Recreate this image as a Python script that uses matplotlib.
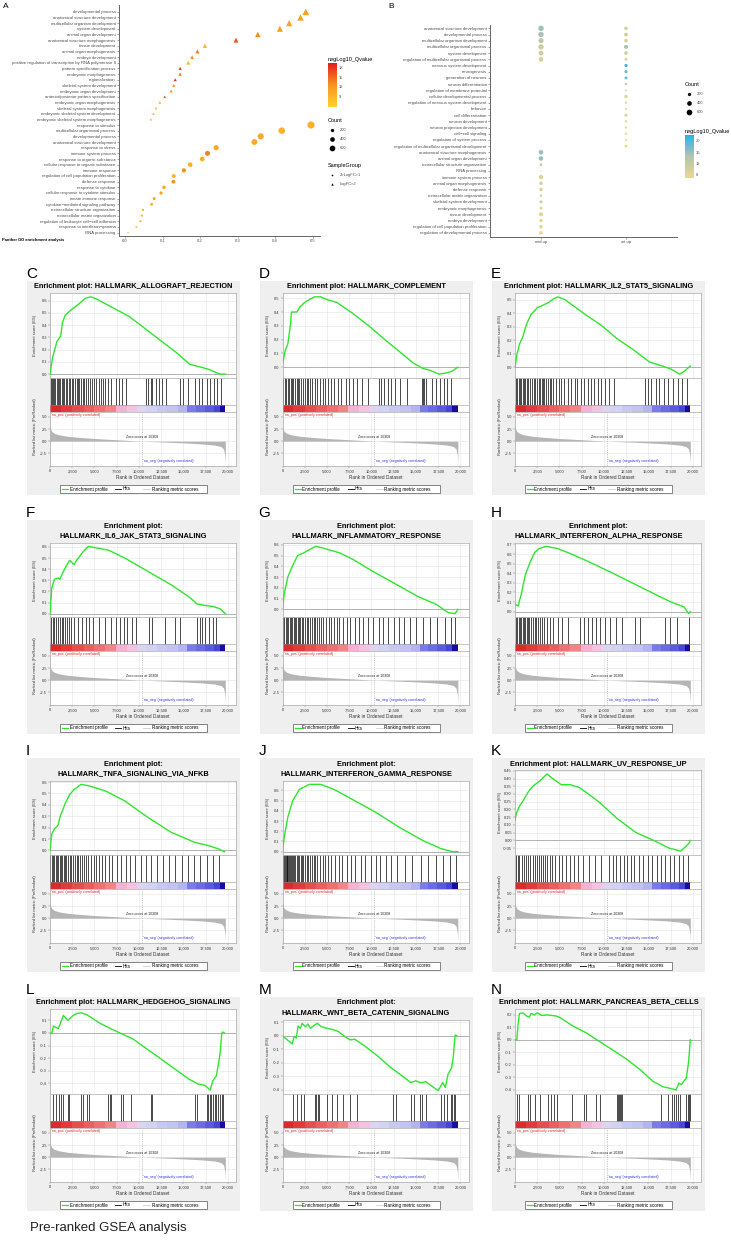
"""
plot.py

Rekonstruktion der Abbildung:
- A: Panther-GO-Anreicherung (Punktdiagramm nach LogFC-Gruppe)
- B: GO-Anreicherung mid up / wt up
- C-N: Pre-ranked GSEA Enrichment-Plots
"""

import numpy as np
import matplotlib
matplotlib.use("Agg")
import matplotlib.pyplot as plt
from matplotlib.cm import ScalarMappable
from matplotlib.colors import LinearSegmentedColormap, Normalize
from matplotlib.patches import Rectangle


FIG_W, FIG_H = 731, 1241
DPI = 100
OUTPUT = "out.png"

FONT = "Liberation Sans"
plt.rcParams["font.family"] = [FONT, "DejaVu Sans"]

SIZE_SCALE = 0.028
TRIANGLE_BOOST = 1.7
GO_LABEL_SIZE = 3.1
HIT_LW = 0.5

# ---------------------------------------------------------------- Panel A
A_TERMS = [
    "developmental process",
    "anatomical structure development",
    "multicellular organism development",
    "system development",
    "animal organ development",
    "anatomical structure morphogenesis",
    "tissue development",
    "animal organ morphogenesis",
    "embryo development",
    "positive regulation of transcription by RNA polymerase II",
    "pattern specification process",
    "embryonic morphogenesis",
    "regionalization",
    "skeletal system development",
    "embryonic organ development",
    "anterior/posterior pattern specification",
    "embryonic organ morphogenesis",
    "skeletal system morphogenesis",
    "embryonic skeletal system development",
    "embryonic skeletal system morphogenesis",
    "response to stimulus",
    "multicellular organismal process",
    "developmental process",
    "anatomical structure development",
    "response to stress",
    "immune system process",
    "response to organic substance",
    "cellular response to organic substance",
    "immune response",
    "regulation of cell population proliferation",
    "defense response",
    "response to cytokine",
    "cellular response to cytokine stimulus",
    "innate immune response",
    "cytokine\u2212mediated signaling pathway",
    "extracellular structure organization",
    "extracellular matrix organization",
    "regulation of leukocyte cell\u2212cell adhesion",
    "response to interferon\u2212gamma",
    "RNA processing",
]
A_RATIO = [0.482, 0.468, 0.438, 0.413, 0.354, 0.296, 0.213, 0.193, 0.179, 0.169,
           0.147, 0.147, 0.134, 0.130, 0.123, 0.106, 0.093, 0.083, 0.076, 0.069,
           0.496, 0.418, 0.362, 0.345, 0.243, 0.220, 0.206, 0.174, 0.157, 0.130,
           0.129, 0.104, 0.096, 0.078, 0.071, 0.048, 0.045, 0.041, 0.030, 0.008]
A_QVAL = [11, 11, 10.5, 11, 13, 16, 9, 14, 12, 8.5,
          17, 14, 18.5, 12, 12.5, 16, 11, 10, 11, 11,
          9, 9, 10, 10, 10, 13.5, 9.5, 9.5, 12.5, 9,
          12.5, 10, 10, 10.5, 9.5, 9, 9, 8.5, 8.5, 7.5]
A_COUNT = [480, 450, 420, 400, 330, 270, 200, 180, 170, 160,
           120, 120, 100, 100, 95, 80, 70, 60, 55, 50,
           950, 820, 700, 650, 500, 450, 420, 380, 330, 280,
           280, 230, 200, 170, 160, 90, 85, 80, 60, 40]
A_GROUP = ["LogFC>2"] * 20 + ["2>LogFC>1"] * 20
A_XTICKS = [0.0, 0.1, 0.2, 0.3, 0.4, 0.5]
A_CBAR_TICKS = [9, 12, 15, 18]

# ---------------------------------------------------------------- Panel B
B_TERMS = [
    "anatomical structure development",
    "developmental process",
    "multicellular organism development",
    "multicellular organismal process",
    "system development",
    "regulation of multicellular organismal process",
    "nervous system development",
    "neurogenesis",
    "generation of neurons",
    "neuron differentiation",
    "regulation of membrane potential",
    "cellular developmental process",
    "regulation of nervous system development",
    "behavior",
    "cell differentiation",
    "neuron development",
    "neuron projection development",
    "cell\u2212cell signaling",
    "regulation of system process",
    "regulation of multicellular organismal development",
    "anatomical structure morphogenesis",
    "animal organ development",
    "extracellular structure organization",
    "RNA processing",
    "immune system process",
    "animal organ morphogenesis",
    "defense response",
    "extracellular matrix organization",
    "skeletal system development",
    "embryonic morphogenesis",
    "tissue development",
    "embryo development",
    "regulation of cell population proliferation",
    "regulation of developmental process",
]
B_GROUPS = ["mid up", "wt up"]
B_MID_QVAL = [15.5, 15, 13, 11, 11, 10, None, None, None, None,
              None, None, None, None, None, None, None, None, None, None,
              16, 16, 12, 11, 9, 10, 9, 10, 10, 9,
              8, 8, 8, 7]
B_MID_COUNT = [560, 540, 480, 520, 420, 380, None, None, None, None,
               None, None, None, None, None, None, None, None, None, None,
               380, 380, 150, 20, 350, 220, 230, 120, 170, 170,
               300, 210, 230, 250]
B_WT_QVAL = [10, 11, 9, 15, 11, 9, 21, 19, 19, 12,
             10, 9, 8, 8, 9, 8, 8, 7, 7, 6.5,
             None, None, None, None, None, None, None, None, None, None,
             None, None, None, None]
B_WT_COUNT = [230, 260, 250, 300, 240, 170, 190, 170, 160, 120,
              60, 200, 90, 80, 180, 100, 90, 110, 80, 150,
              None, None, None, None, None, None, None, None, None, None,
              None, None, None, None]
B_CBAR_TICKS = [8, 12, 16, 20]
LEGEND_COUNTS = [200, 400, 600]

# ---------------------------------------------------------------- GSEA
RANK_TICKS = [0, 2500, 5000, 7500, 10000, 12500, 15000, 17500, 20000]
ZERO_CROSS = 10308

METRIC_RANK = [0, 50, 200, 500, 1000, 2000, 3500, 5000, 7500, 10308,
               12500, 15000, 17000, 18500, 19200, 19500, 19650, 19700]
METRIC_VALUE = [3.4, 2.6, 2.0, 1.6, 1.3, 1.0, 0.75, 0.55, 0.3, 0.0,
                -0.15, -0.35, -0.55, -0.8, -1.1, -1.6, -3.0, -4.8]

C_ES_RANK = [0, 300, 800, 1200, 1400, 1700, 2300, 3200, 4000, 4600, 5300,
             7100, 8900, 10700, 12500, 14300, 15700, 16800, 17800, 19100, 19700]
C_ES_SCORE = [0.0, 0.14, 0.27, 0.31, 0.42, 0.48, 0.52, 0.57, 0.62, 0.63, 0.61,
              0.54, 0.47, 0.37, 0.27, 0.17, 0.08, 0.06, 0.04, 0.0, 0.0]
C_HITS = [100, 200, 350, 500, 600, 750, 900, 1000, 1100, 1300, 1450, 1600, 1800,
          1950, 2100, 2300, 2500, 2600, 2800, 3000, 3100, 3300, 3500, 3700, 3800,
          4000, 4300, 4500, 4700, 5000, 5200, 5500, 5700, 5900, 6200, 6500, 6900,
          7400, 7800, 8100, 8500, 10800, 11000, 11300, 11500, 11900, 12200, 12600,
          13000, 14600, 15000, 15500, 16300, 16700, 17100, 17600, 18000, 18400,
          18800, 19200]

D_ES_RANK = [0, 300, 600, 900, 1000, 1600, 2000, 2500, 3000, 3600, 4300, 5000,
             6100, 7900, 9700, 11500, 13300, 14700, 15800, 16500, 17600, 18500,
             19000, 19700]
D_ES_SCORE = [0.02, 0.12, 0.17, 0.31, 0.40, 0.40, 0.44, 0.47, 0.49, 0.51, 0.51,
              0.49, 0.47, 0.39, 0.30, 0.20, 0.105, 0.03, -0.01, -0.02, -0.05,
              -0.04, -0.03, 0.0]
D_HITS = [100, 250, 400, 600, 750, 900, 1050, 1200, 1400, 1600, 1700, 1900, 2100,
          2300, 2500, 2700, 2900, 3100, 3300, 3600, 3900, 4200, 4500, 4800, 5100,
          5400, 5800, 6200, 6600, 7100, 7500, 7900, 8400, 8900, 9600, 10800,
          11100, 11400, 11800, 12200, 12600, 13200, 14000, 15700, 15800, 15900,
          16100, 16800, 17200, 17700, 18100, 18500, 18900]

E_ES_RANK = [0, 200, 500, 900, 1300, 1800, 2500, 3200, 3800, 4300, 4800, 5600,
             7900, 9700, 11500, 13300, 15100, 16800, 17600, 18500, 19000, 19700]
E_ES_SCORE = [0.0, 0.09, 0.17, 0.23, 0.32, 0.39, 0.44, 0.46, 0.48, 0.505, 0.52,
              0.50, 0.39, 0.31, 0.21, 0.13, 0.04, 0.005, -0.015, -0.05, -0.03,
              0.01]
E_HITS = [100, 250, 400, 550, 700, 850, 1000, 1150, 1300, 1500, 1700, 1900, 2100,
          2300, 2500, 2650, 2800, 3000, 3150, 3300, 3500, 3700, 3900, 4100, 4300,
          4600, 4900, 5200, 5500, 5900, 6300, 6700, 7000, 7400, 7800, 8200, 8500,
          8900, 9300, 9700, 10100, 10600, 11100, 14600, 14900, 15300, 15800,
          16200, 16700, 17200, 17800, 18300, 18800, 19300]

F_ES_RANK = [0, 200, 500, 900, 1100, 1700, 2200, 2700, 3000, 3750, 4300, 5300,
             6600, 8400, 11000, 13600, 15700, 16500, 17500, 18300, 19100, 19700]
F_ES_SCORE = [0.0, 0.23, 0.31, 0.32, 0.31, 0.41, 0.48, 0.44, 0.48, 0.56, 0.605,
              0.59, 0.57, 0.50, 0.38, 0.26, 0.146, 0.088, 0.073, 0.064, 0.044,
              0.0]
F_HITS = [100, 300, 500, 700, 900, 1100, 1300, 1500, 1700, 1900, 2100, 2400,
          2700, 3200, 3600, 4000, 4400, 4800, 5500, 6200, 6800, 7400, 7900, 8300,
          8600, 9200, 9700, 11100, 11500, 12900, 14000, 14600, 16500, 16800,
          17100, 17400, 17900, 18300, 18700]

G_ES_RANK = [0, 200, 600, 1100, 1700, 2400, 3000, 3750, 4500, 6400, 7900, 10000,
             12600, 15200, 17300, 18600, 19400, 19700]
G_ES_SCORE = [0.0, 0.15, 0.30, 0.40, 0.50, 0.525, 0.555, 0.585, 0.57, 0.525,
              0.465, 0.36, 0.24, 0.12, 0.045, -0.03, -0.04, 0.0]
G_HITS = [50, 200, 350, 500, 650, 800, 950, 1100, 1250, 1400, 1550, 1700, 1850,
          2000, 2150, 2300, 2500, 2700, 2900, 3100, 3300, 3500, 3700, 3900, 4100,
          4300, 4600, 4900, 5200, 5500, 5800, 6100, 6400, 6800, 7200, 7600, 8100,
          8600, 9100, 9600, 10200, 10800, 11300, 11900, 12500, 13100, 13700,
          14300, 15000, 15800, 16600, 17400, 18300, 18900, 19400]

H_ES_RANK = [0, 350, 700, 1150, 1700, 2200, 2700, 3500, 4800, 6350, 8400, 11000,
             13600, 16200, 17700, 19000, 19500, 19700]
H_ES_SCORE = [0.08, 0.06, 0.18, 0.38, 0.515, 0.616, 0.657, 0.68, 0.657, 0.60,
              0.515, 0.40, 0.28, 0.16, 0.094, 0.05, -0.02, 0.0]
H_HITS = [100, 250, 400, 550, 700, 850, 1000, 1150, 1300, 1450, 1600, 1800, 2000,
          2200, 2400, 2600, 2800, 3000, 3300, 3600, 3900, 4300, 4800, 5300, 5900,
          7300, 7700, 8200, 8600, 9100, 9600, 10100, 10700, 11300, 12000, 13500,
          14100, 16900, 17400, 18200, 19600]

I_ES_RANK = [0, 200, 500, 900, 1150, 1700, 2200, 2700, 3500, 4500, 6300, 8400,
             11000, 13600, 16250, 17800, 18900, 19600]
I_ES_SCORE = [0.0, 0.145, 0.19, 0.22, 0.30, 0.41, 0.49, 0.535, 0.58, 0.565, 0.52,
              0.435, 0.29, 0.16, 0.072, 0.043, 0.015, -0.01]
I_HITS = [50, 200, 350, 500, 650, 800, 950, 1100, 1250, 1400, 1550, 1700, 1850,
          2000, 2200, 2400, 2600, 2800, 3000, 3200, 3400, 3600, 3800, 4000, 4300,
          4600, 4900, 5200, 5500, 5800, 6200, 6600, 7000, 7500, 8000, 8500, 9000,
          9600, 10200, 10800, 11400, 12000, 12700, 13400, 14100, 14800, 15500,
          16200, 16900, 17600, 18300, 19000]

J_ES_RANK = [0, 200, 600, 1150, 1900, 3000, 4300, 5800, 7900, 10500, 13100,
             15750, 17800, 19100, 19700]
J_ES_SCORE = [0.0, 0.145, 0.34, 0.50, 0.61, 0.66, 0.66, 0.61, 0.51, 0.385, 0.24,
              0.11, 0.03, 0.0, 0.0]
J_HITS = [50, 150, 250, 350, 450, 550, 650, 750, 850, 950, 1050, 1150, 1300,
          1450, 1600, 1750, 1900, 2050, 2200, 2350, 2500, 2700, 2900, 3100, 3300,
          3500, 3700, 3900, 4200, 4500, 4800, 5100, 5500, 5900, 6300, 6700, 7200,
          7700, 8200, 8800, 9300, 9900, 10500, 11000, 11600, 12200, 12900, 13800,
          14600, 15600, 16400, 17300, 18000, 18800, 19500]

K_ES_RANK = [0, 150, 500, 950, 1500, 2000, 2800, 3600, 4100, 5200, 6200, 7300,
             9400, 11500, 13600, 15750, 17300, 18600, 19200, 19600, 19700]
K_ES_SCORE = [0.13, 0.175, 0.22, 0.26, 0.315, 0.35, 0.385, 0.43, 0.405, 0.36,
              0.36, 0.34, 0.25, 0.14, 0.05, -0.005, -0.05, -0.07, -0.04, -0.015,
              0.0]
K_HITS = [100, 300, 500, 800, 1000, 1200, 1500, 1700, 2000, 2200, 2500, 2700,
          2900, 3200, 3400, 3600, 3900, 4200, 4500, 4900, 5300, 5700, 6200, 6600,
          7100, 7600, 8300, 9000, 9700, 10600, 11000, 11400, 11800, 12200, 12600,
          13000, 13400, 13900, 14400, 14900, 15400, 15900, 16400, 16900, 17400,
          17900, 18400, 18900, 19400]

L_ES_RANK = [0, 200, 370, 930, 1100, 1500, 2000, 2600, 3000, 3500, 4100, 5600,
             7000, 9300, 11500, 13700, 15600, 16700, 17400, 18000, 18300, 18700,
             19100, 19300, 19400, 19600]
L_ES_SCORE = [0.0, -0.005, 0.055, 0.035, 0.064, 0.14, 0.10, 0.14, 0.155, 0.16,
              0.147, 0.078, 0.028, -0.047, -0.158, -0.27, -0.367, -0.408, -0.416,
              -0.455, -0.38, -0.34, -0.17, -0.005, 0.008, 0.0]
L_HITS = [370, 670, 1040, 1220, 1410, 2040, 2150, 3520, 3700, 4150, 4370, 6500,
          6700, 6850, 7960, 8150, 9070, 11300, 11500, 16300, 16500, 17600, 17800,
          18000, 18100, 18300, 18500, 18700, 18900, 19100, 19300, 19400]

M_ES_RANK = [0, 550, 1100, 1300, 1550, 1750, 2000, 2200, 2600, 2850, 3150, 3500,
             3900, 4400, 5000, 5550, 6300, 7000, 7600, 8100, 9300, 10700, 12200,
             13700, 14400, 15000, 15550, 16100, 16700, 17500, 18000, 18300, 18600,
             19000, 19200, 19300, 19400, 19600]
M_ES_SCORE = [0.0, -0.03, -0.06, -0.005, -0.017, 0.073, 0.056, 0.093, 0.068,
              0.088, 0.056, 0.075, 0.093, 0.068, 0.056, 0.049, 0.032, -0.005,
              -0.03, -0.024, -0.078, -0.15, -0.237, -0.31, -0.346, -0.334, -0.35,
              -0.34, -0.37, -0.407, -0.346, -0.383, -0.285, -0.237, -0.15,
              -0.066, 0.007, 0.0]
M_HITS = [1220, 1590, 2040, 2410, 3630, 3780, 4000, 4150, 5000, 5550, 6100, 6850,
          7600, 8330, 12400, 12800, 14400, 14800, 15400, 15700, 16100, 17800,
          18100, 18500, 18900, 19100, 19300, 19400]

N_ES_RANK = [0, 200, 350, 500, 900, 1300, 1600, 1800, 2200, 2500, 3000, 3300,
             3500, 4600, 5000, 6500, 8000, 9500, 11000, 12500, 14000, 15500,
             16600, 17800, 18100, 18400, 18700, 18950, 19250, 19500, 19700]
N_ES_SCORE = [0.0, 0.0, 0.125, 0.21, 0.215, 0.19, 0.18, 0.21, 0.20, 0.215, 0.195,
              0.195, 0.20, 0.19, 0.18, 0.11, 0.055, -0.014, -0.083, -0.153,
              -0.236, -0.333, -0.375, -0.395, -0.403, -0.347, -0.36, -0.333,
              -0.306, -0.18, 0.0]
N_HITS = [220, 450, 1460, 1650, 2200, 2770, 3700, 4100, 4340, 4720, 6440, 7700,
          8000, 9140, 9500, 11460, 11570, 11690, 11840, 11950, 12060, 16400,
          17200, 17600, 17900, 18100, 18300, 18500, 19250, 19400, 19550, 19700]

GSEA_PANELS = [
    ("C", "Enrichment plot: HALLMARK_ALLOGRAFT_REJECTION", C_ES_RANK, C_ES_SCORE, C_HITS, 0.1),
    ("D", "Enrichment plot: HALLMARK_COMPLEMENT", D_ES_RANK, D_ES_SCORE, D_HITS, 0.1),
    ("E", "Enrichment plot: HALLMARK_IL2_STAT5_SIGNALING", E_ES_RANK, E_ES_SCORE, E_HITS, 0.1),
    ("F", "Enrichment plot:\nHALLMARK_IL6_JAK_STAT3_SIGNALING", F_ES_RANK, F_ES_SCORE, F_HITS, 0.1),
    ("G", "Enrichment plot:\nHALLMARK_INFLAMMATORY_RESPONSE", G_ES_RANK, G_ES_SCORE, G_HITS, 0.1),
    ("H", "Enrichment plot:\nHALLMARK_INTERFERON_ALPHA_RESPONSE", H_ES_RANK, H_ES_SCORE, H_HITS, 0.1),
    ("I", "Enrichment plot:\nHALLMARK_TNFA_SIGNALING_VIA_NFKB", I_ES_RANK, I_ES_SCORE, I_HITS, 0.1),
    ("J", "Enrichment plot:\nHALLMARK_INTERFERON_GAMMA_RESPONSE", J_ES_RANK, J_ES_SCORE, J_HITS, 0.1),
    ("K", "Enrichment plot: HALLMARK_UV_RESPONSE_UP", K_ES_RANK, K_ES_SCORE, K_HITS, 0.05),
    ("L", "Enrichment plot: HALLMARK_HEDGEHOG_SIGNALING", L_ES_RANK, L_ES_SCORE, L_HITS, 0.1),
    ("M", "Enrichment plot:\nHALLMARK_WNT_BETA_CATENIN_SIGNALING", M_ES_RANK, M_ES_SCORE, M_HITS, 0.1),
    ("N", "Enrichment plot: HALLMARK_PANCREAS_BETA_CELLS", N_ES_RANK, N_ES_SCORE, N_HITS, 0.1),
]

# Farbstreifen unter den Hits (Rangbereiche und Farben)
STRIP_EDGES = [0, 1200, 2500, 3800, 5000, 6200, 7400, 8600, 9800, 10800, 12000,
               13200, 14400, 15400, 16400, 17400, 18400, 19100, 19700]
STRIP_COLORS = ["#d92b2b", "#e03a3a", "#e64d4d", "#ea5e5e", "#ee7070", "#f18484",
                "#f5b3d3", "#f5c3df", "#dcd4f0", "#d2d2f5", "#c8c8f5", "#c2c2f3",
                "#b4b4f0", "#7a7ae8", "#6a6ae4", "#5a5adf", "#4545d8", "#1a0aa0"]

# Layout in Pixeln
COL_X = [27, 259.5, 492]
ROW_TITLE_Y = [287, 526, 764, 1003]
PANEL_W = 213
RANK_MAX = 20900

GREEN = "#2de62d"
TEXT_GRAY = "#4d4d4d"

CMAP_A = LinearSegmentedColormap.from_list("qa", ["#ffd22e", "#f7931e", "#e41a1c"])
CMAP_B = LinearSegmentedColormap.from_list("qb", ["#ebd98b", "#b3c4b0", "#27b3f3"])
NORM_A = Normalize(5.5, 19.5)
NORM_B = Normalize(6.9, 22.1)


def px_rect(x, y, w, h):
    """Pixelbox (oben links) in Figurenkoordinaten umrechnen."""
    return [x / FIG_W, 1 - (y + h) / FIG_H, w / FIG_W, h / FIG_H]


def style_go_axes(ax):
    for side in ("top", "right"):
        ax.spines[side].set_visible(False)
    for side in ("left", "bottom"):
        ax.spines[side].set_color("#666666")
        ax.spines[side].set_linewidth(0.7)
    ax.tick_params(length=1.5, width=0.4, color="#666666", pad=1,
                   labelsize=GO_LABEL_SIZE, labelcolor=TEXT_GRAY)


def draw_count_legend(ov, x, y_title, y_dots):
    ov.text(x, y_title, "Count", fontsize=4, va="center")
    for yy, cnt in zip(y_dots, LEGEND_COUNTS):
        ov.scatter(x + 4, yy, s=cnt * SIZE_SCALE, color="black", linewidths=0)
        ov.text(x + 12, yy, str(cnt), fontsize=2.9, va="center", color=TEXT_GRAY)


def draw_colorbar(fig, ov, x, y_title, rect, norm, cmap, ticks):
    ov.text(x, y_title, "negLog10_Qvalue", fontsize=4, va="center")
    cax = fig.add_axes(px_rect(*rect))
    cb = fig.colorbar(ScalarMappable(norm=norm, cmap=cmap), cax=cax, ticks=ticks)
    cb.outline.set_visible(False)
    cax.tick_params(labelsize=2.9, length=0, pad=1.5, labelcolor=TEXT_GRAY)


def draw_panel_a(fig, ov):
    n = len(A_TERMS)
    ypos = np.arange(n)[::-1]
    ax = fig.add_axes(px_rect(119, 5, 201, 231))
    ratio = np.array(A_RATIO)
    qval = np.array(A_QVAL)
    count = np.array(A_COUNT)
    group = np.array(A_GROUP)
    for grp, marker, boost in (("LogFC>2", "^", TRIANGLE_BOOST), ("2>LogFC>1", "o", 1.0)):
        m = group == grp
        ax.scatter(ratio[m], ypos[m], s=count[m] * SIZE_SCALE * boost, c=qval[m],
                   cmap=CMAP_A, norm=NORM_A, marker=marker, linewidths=0)
    ax.set_xlim(-0.016, 0.52)
    ax.set_ylim(-0.6, n - 1 + 1.2)
    ax.set_yticks(ypos)
    ax.set_yticklabels(A_TERMS)
    ax.set_xticks(A_XTICKS)
    ax.set_xticklabels([f"{v:.1f}" for v in A_XTICKS])
    style_go_axes(ax)

    ov.text(3, 6, "A", fontsize=6, va="center")
    ov.text(2, 240, "Panther GO enrichment analysis", fontsize=2.9,
            fontweight="bold", va="center")

    draw_colorbar(fig, ov, 328, 59, (328, 63, 9, 44), NORM_A, CMAP_A, A_CBAR_TICKS)
    draw_count_legend(ov, 328, 121, [130, 139, 148])
    ov.text(328, 166, "SampleGroup", fontsize=4, va="center")
    ov.scatter(332, 175, s=1.5, color="black", marker="o", linewidths=0)
    ov.text(340, 175, "2>LogFC>1", fontsize=2.9, va="center", color=TEXT_GRAY)
    ov.scatter(332, 184, s=3, color="black", marker="^", linewidths=0)
    ov.text(340, 184, "LogFC>2", fontsize=2.9, va="center", color=TEXT_GRAY)


def draw_panel_b(fig, ov):
    n = len(B_TERMS)
    ypos = np.arange(n)[::-1]
    ax = fig.add_axes(px_rect(490, 24.6, 187, 212))
    for xi, (qlist, clist) in enumerate(((B_MID_QVAL, B_MID_COUNT),
                                         (B_WT_QVAL, B_WT_COUNT)), start=1):
        idx = [i for i, q in enumerate(qlist) if q is not None]
        ax.scatter([xi] * len(idx), ypos[idx],
                   s=[clist[i] * SIZE_SCALE for i in idx],
                   c=[qlist[i] for i in idx], cmap=CMAP_B, norm=NORM_B,
                   linewidths=0)
    ax.set_xlim(0.4, 2.6)
    ax.set_ylim(-0.6, n - 1 + 0.6)
    ax.set_yticks(ypos)
    ax.set_yticklabels(B_TERMS)
    ax.set_xticks([1, 2])
    ax.set_xticklabels(B_GROUPS)
    style_go_axes(ax)

    ov.text(388, 6, "B", fontsize=6, va="center")
    draw_count_legend(ov, 685, 85, [94, 103, 112])
    draw_colorbar(fig, ov, 685, 131, (685, 135, 9, 43), NORM_B, CMAP_B, B_CBAR_TICKS)


def gsea_tick_style(ax):
    for sp in ax.spines.values():
        sp.set_color("#aaaaaa")
        sp.set_linewidth(0.5)
    ax.tick_params(length=1.2, width=0.3, color="#777777", pad=1,
                   labelsize=2.9, labelcolor="#333333")


def draw_gsea(fig, bg, ov, x0, top, letter, title, es_rank, es_score, hits, ystep):
    two_lines = "\n" in title
    bg.add_patch(Rectangle((x0, top - 6), PANEL_W, 214, facecolor="#efefef",
                           edgecolor="none"))
    ov.text(x0 - 1, top - 13, letter, fontsize=11, ha="left", va="center")
    cx = x0 + PANEL_W / 2
    for k, line in enumerate(title.split("\n")):
        ov.text(cx, top + 10 * k, line, fontsize=5.3, fontweight="bold",
                ha="center", va="center")

    ax_left = x0 + 23
    ax_w = 186

    # Enrichment score
    es_top = top + (17 if two_lines else 6)
    ax = fig.add_axes(px_rect(ax_left, es_top, ax_w, top + 91 - es_top))
    ax.plot(es_rank, es_score, color=GREEN, lw=1.0, zorder=3)
    ax.axhline(0, color="#999999", lw=0.5, zorder=2)
    lo, hi = min(es_score), max(es_score)
    pad = 0.05 * (hi - lo)
    ax.set_ylim(lo - pad, hi + pad)
    ticks = np.arange(np.ceil((lo - pad) / ystep) * ystep, hi + pad, ystep)
    ax.set_yticks(ticks)
    fmt = "{:.2f}" if ystep < 0.1 else "{:.1f}"
    ax.set_yticklabels([fmt.format(0.0 if abs(t) < 1e-9 else t) for t in ticks])
    ax.set_xlim(0, RANK_MAX)
    ax.set_xticks(RANK_TICKS)
    ax.grid(color="#e4e4e4", lw=0.4)
    ax.set_axisbelow(True)
    gsea_tick_style(ax)
    ax.tick_params(axis="x", length=0, labelbottom=False)
    ov.text(x0 + 8, (es_top + top + 91) / 2, "Enrichment score (ES)", fontsize=3,
            rotation=90, ha="center", va="center", color="#333333")

    # Hits und Farbstreifen
    hx = fig.add_axes(px_rect(ax_left, top + 91, ax_w, 34))
    strip_h = 7 / 34
    hx.vlines(hits, strip_h, 1, color="black", lw=HIT_LW)
    widths = np.diff(STRIP_EDGES)
    hx.barh(strip_h / 2, widths, left=STRIP_EDGES[:-1], height=strip_h,
            color=STRIP_COLORS, linewidth=0)
    hx.axhline(strip_h, color="#999999", lw=0.4)
    hx.set_xlim(0, RANK_MAX)
    hx.set_ylim(0, 1)
    hx.set_xticks([])
    hx.set_yticks([])
    gsea_tick_style(hx)

    # Rangliste
    rx = fig.add_axes(px_rect(ax_left, top + 125, ax_w, 54))
    rx.fill_between(METRIC_RANK, METRIC_VALUE, 0, color="#b5b5b5", lw=0)
    rx.axvline(ZERO_CROSS, color="#999999", lw=0.4, ls=(0, (2, 2)))
    rx.set_xlim(0, RANK_MAX)
    rx.set_ylim(-5.1, 6.0)
    rx.set_yticks([5.0, 2.5, 0.0, -2.5])
    rx.set_yticklabels(["5.0", "2.5", "0.0", "-2.5"])
    rx.set_xticks(RANK_TICKS)
    rx.set_xticklabels([f"{t:,}" for t in RANK_TICKS])
    rx.grid(color="#e4e4e4", lw=0.4)
    rx.set_axisbelow(True)
    gsea_tick_style(rx)
    rx.set_xlabel("Rank in Ordered Dataset", fontsize=3.4, labelpad=1.5,
                  color="#333333")
    rx.text(150, 5.8, "'na_pos' (positively correlated)", fontsize=2.6,
            color="#e02020", va="top")
    rx.text(ZERO_CROSS, 0.4, f"Zero cross at {ZERO_CROSS}", fontsize=2.6,
            ha="center", va="bottom", color="#222222")
    rx.text(ZERO_CROSS + 100, -4.1, "'na_neg' (negatively correlated)",
            fontsize=2.6, color="#3030e0", va="center")
    ov.text(x0 + 8, top + 140, "Ranked list metric (PreRanked)", fontsize=3,
            rotation=90, ha="center", va="center", color="#333333")

    # Legende
    ly = top + 202
    ov.add_patch(Rectangle((x0 + 33, ly - 4.3), 147, 8.6, facecolor="white",
                           edgecolor="#555555", lw=0.5))
    ov.plot([x0 + 35, x0 + 41], [ly, ly], color=GREEN, lw=0.9)
    ov.text(x0 + 42.5, ly, "Enrichment profile", fontsize=3.3, va="center")
    ov.plot([x0 + 88, x0 + 94], [ly, ly], color="black", lw=0.6)
    ov.text(x0 + 95.5, ly, "Hits", fontsize=3.3, va="center")
    ov.plot([x0 + 116, x0 + 123], [ly, ly], color="#d0d0d0", lw=0.6)
    ov.text(x0 + 125, ly, "Ranking metric scores", fontsize=3.3, va="center")


def main():
    fig = plt.figure(figsize=(FIG_W / DPI, FIG_H / DPI), dpi=DPI)
    bg = fig.add_axes([0, 0, 1, 1], zorder=-5)
    bg.set_xlim(0, FIG_W)
    bg.set_ylim(FIG_H, 0)
    bg.axis("off")
    ov = fig.add_axes([0, 0, 1, 1], zorder=10)
    ov.set_xlim(0, FIG_W)
    ov.set_ylim(FIG_H, 0)
    ov.axis("off")

    draw_panel_a(fig, ov)
    draw_panel_b(fig, ov)

    for i, (letter, title, es_rank, es_score, hits, ystep) in enumerate(GSEA_PANELS):
        row, col = divmod(i, 3)
        draw_gsea(fig, bg, ov, COL_X[col], ROW_TITLE_Y[row], letter, title,
                  es_rank, es_score, hits, ystep)

    ov.text(30, 1228, "Pre-ranked GSEA analysis", fontsize=9.5, va="center",
            color="#222222")

    fig.savefig(OUTPUT, dpi=DPI)
    plt.close(fig)


if __name__ == "__main__":
    main()
